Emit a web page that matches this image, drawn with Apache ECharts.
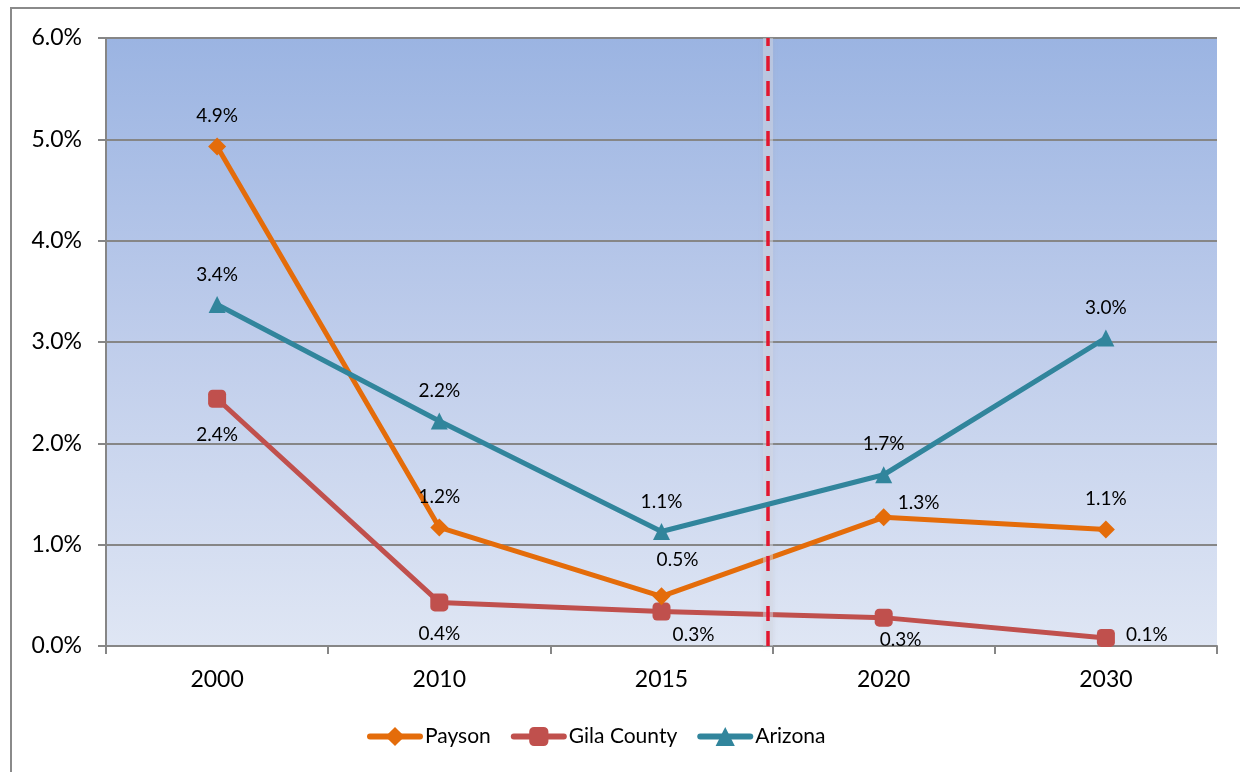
<!DOCTYPE html>
<html>
<head>
<meta charset="utf-8">
<script src="https://cdn.jsdelivr.net/npm/echarts@6/dist/echarts.min.js"></script>
<style>html,body{margin:0;padding:0;background:#fff}#c{width:1240px;height:772px}</style>
</head>
<body>
<div id="c"></div>
<script>
var categories = ['2000', '2010', '2015', '2020', '2030'];
var payson = [4.93, 1.17, 0.49, 1.27, 1.15];
var gila = [2.44, 0.43, 0.34, 0.28, 0.08];
var arizona = [3.37, 2.22, 1.13, 1.69, 3.04];
var yTicks = [0, 1, 2, 3, 4, 5, 6];
var dividerPosition = 2.98; // just left of the boundary between 2015 and 2020 (category units)

var paysonOffsets = [[0,-31],[0,-31],[16,-36],[35,-14],[0,-31]];
var gilaOffsets = [[0,36],[0,31],[32,23],[17,22],[41,-3]];
var arizonaOffsets = [[0,-30],[0,-30],[0,-30],[0,-31],[0,-30]];

var FONT = 'Lato';
function pts(vals, offs) {
  return vals.map(function (v, i) {
    return { value: v, label: { offset: offs[i] } };
  });
}
function lbl() {
  return {
    show: true, position: 'inside', color: '#000', fontFamily: FONT, fontSize: 19,
    formatter: function (p) { return p.value.toFixed(1) + '%'; }
  };
}
var chart = echarts.init(document.getElementById('c'), null, { renderer: 'canvas' });
chart.setOption({
  animation: false,
  backgroundColor: '#fff',
  graphic: [{
    type: 'rect', z: -10, silent: true,
    shape: { x: 11, y: 8, width: 1400, height: 1000 },
    style: { fill: 'none', stroke: '#8a8a8a', lineWidth: 2 }
  }],
  grid: {
    left: 106, right: 23, top: 38, bottom: 126, show: true, borderWidth: 0,
    backgroundColor: new echarts.graphic.LinearGradient(0, 0, 0, 1, [
      { offset: 0, color: '#9bb4e2' },
      { offset: 0.5, color: '#bfcdeb' },
      { offset: 1, color: '#dfe6f4' }
    ])
  },
  legend: {
    left: 362, top: 721, itemWidth: 50, itemHeight: 24, itemGap: 20,
    textStyle: { fontFamily: FONT, fontSize: 21, color: '#000' },
    lineStyle: { width: 6, cap: 'round' },
    data: ['Payson', 'Gila County', 'Arizona']
  },
  xAxis: [{
    type: 'category', data: categories, boundaryGap: true,
    axisLine: { lineStyle: { color: '#868686', width: 2 } },
    axisTick: { show: true, length: 8, lineStyle: { color: '#868686', width: 2 } },
    axisLabel: { margin: 22, color: '#000', fontFamily: FONT, fontSize: 23 },
    splitLine: { show: false }
  }, {
    type: 'value', min: 0, max: 5, show: false
  }],
  yAxis: {
    type: 'value', min: yTicks[0], max: yTicks[yTicks.length - 1], interval: 1,
    axisLine: { show: true, lineStyle: { color: '#868686', width: 2 } },
    axisTick: { show: true, length: 8, lineStyle: { color: '#868686', width: 2 } },
    axisLabel: { margin: 24, color: '#000', fontFamily: FONT, fontSize: 23,
      formatter: function (v) { return v.toFixed(1) + '%'; } },
    splitLine: { lineStyle: { color: '#868686', width: 2 } }
  },
  series: [{
    name: 'Payson', type: 'line', data: pts(payson, paysonOffsets),
    symbol: 'diamond', symbolSize: 18, z: 4,
    itemStyle: { color: '#e46c0a' }, lineStyle: { color: '#e46c0a', width: 5 },
    label: lbl()
  }, {
    name: 'Gila County', type: 'line', data: pts(gila, gilaOffsets),
    symbol: 'roundRect', symbolSize: 18, z: 3,
    itemStyle: { color: '#c0504d' }, lineStyle: { color: '#c0504d', width: 5 },
    label: lbl()
  }, {
    name: 'Arizona', type: 'line', data: pts(arizona, arizonaOffsets),
    symbol: 'triangle', symbolSize: 17, z: 5,
    itemStyle: { color: '#31859c' }, lineStyle: { color: '#31859c', width: 5 },
    label: lbl()
  }, {
    name: 'dividerHalo', type: 'line', xAxisIndex: 1, data: [], z: 6,
    markLine: {
      silent: true, symbol: ['none', 'none'], label: { show: false },
      lineStyle: { color: 'rgba(215,220,230,0.45)', width: 10, type: 'solid',
        shadowColor: 'rgba(170,170,180,0.5)', shadowBlur: 5 },
      data: [{ xAxis: dividerPosition }]
    }
  }, {
    name: 'divider', type: 'line', xAxisIndex: 1, data: [], z: 7,
    markLine: {
      silent: true, symbol: ['none', 'none'], label: { show: false },
      lineStyle: { color: '#e2162e', width: 3.5, type: [15, 10] },
      data: [{ xAxis: dividerPosition }]
    }
  }]
});
</script>
</body>
</html>
